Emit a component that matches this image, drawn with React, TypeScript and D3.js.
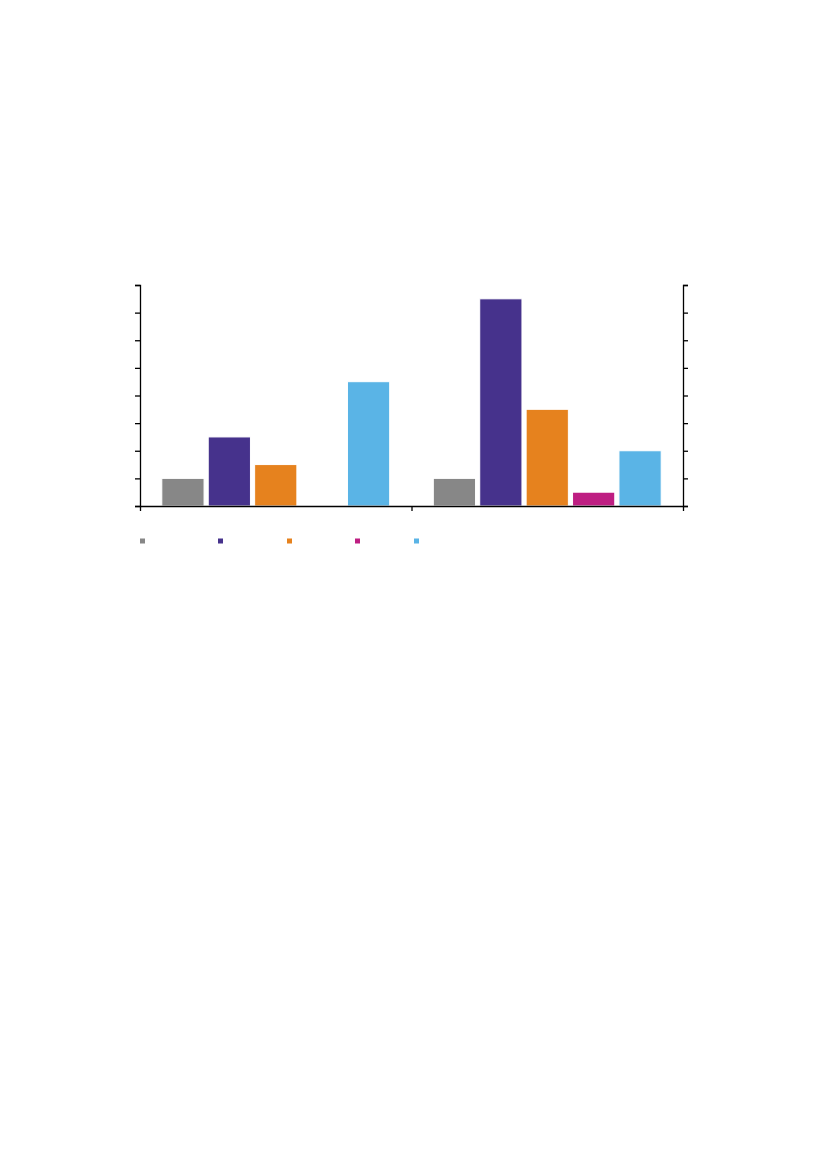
import * as d3 from "d3";
import { useRef, useEffect } from "react";

// no labels are visible in the source picture, so categories are placeholders
const groups = ["A", "B"];
const series = ["s1", "s2", "s3", "s4", "s5"];
const colors = ["#878787", "#46328c", "#e6821e", "#be1e82", "#5ab4e6"];
const valuesA = [1, 2.5, 1.5, 0, 4.5];
const valuesB = [1, 7.5, 3.5, 0.5, 2];
const yTicks = [0, 1, 2, 3, 4, 5, 6, 7, 8];

const W = 827;
const H = 1169;
const left = 140;
const right = 683;
const top = 285;
const bottom = 506;
const legendY = 541;
const legendX = [140, 218, 287, 355, 414];

export default function App() {
  const ref = useRef<SVGSVGElement>(null);

  useEffect(() => {
    const svg = d3.select(ref.current);
    svg.selectAll("*").remove();

    const table = groups.map((g, i) => ({
      group: g,
      values: (i === 0 ? valuesA : valuesB).map((v, j) => ({ key: series[j], value: v })),
    }));

    const x0 = d3.scaleBand().domain(groups).range([left, right]).padding(0);
    const x1 = d3.scaleBand()
      .domain(series)
      .range([0, x0.bandwidth()])
      .paddingInner(0.09)
      .paddingOuter(0.47);
    const y = d3.scaleLinear().domain([0, 8]).range([bottom, top]);
    const color = d3.scaleOrdinal<string, string>().domain(series).range(colors);

    // bars
    svg.append("g")
      .selectAll("g")
      .data(table)
      .join("g")
        .attr("transform", d => `translate(${x0(d.group)},0)`)
      .selectAll("rect")
      .data(d => d.values.filter(v => v.value > 0))
      .join("rect")
        .attr("x", d => x1(d.key)!)
        .attr("y", d => y(d.value))
        .attr("width", x1.bandwidth())
        .attr("height", d => y(0) - y(d.value))
        .attr("fill", d => color(d.key))
        .attr("stroke", "#fff")
        .attr("stroke-width", 1);

    // left axis
    svg.append("g")
      .attr("transform", `translate(${left},0)`)
      .call(d3.axisLeft(y).tickValues(yTicks).tickSize(5).tickFormat(() => ""))
      .call(g => g.selectAll("path,line").attr("stroke", "#000").attr("stroke-width", 1.3));

    // right axis
    svg.append("g")
      .attr("transform", `translate(${right},0)`)
      .call(d3.axisRight(y).tickValues(yTicks).tickSize(5).tickFormat(() => ""))
      .call(g => g.selectAll("path,line").attr("stroke", "#000").attr("stroke-width", 1.3));

    // bottom axis, ticks at group boundaries
    const bx = d3.scaleLinear().domain([0, groups.length]).range([left, right]);
    svg.append("g")
      .attr("transform", `translate(0,${bottom})`)
      .call(d3.axisBottom(bx).tickValues(d3.range(groups.length + 1)).tickSize(5).tickSizeOuter(0).tickFormat(() => ""))
      .call(g => g.selectAll("path,line").attr("stroke", "#000").attr("stroke-width", 1.3));

    // legend markers
    svg.append("g")
      .selectAll("rect")
      .data(series)
      .join("rect")
        .attr("x", (d, i) => legendX[i])
        .attr("y", legendY - 2.5)
        .attr("width", 5)
        .attr("height", 5)
        .attr("fill", d => color(d));
  }, []);

  return (
    <svg
      ref={ref}
      width={W}
      height={H}
      style={{ position: "absolute", left: 0, top: 0, background: "#fff" }}
    />
  );
}
